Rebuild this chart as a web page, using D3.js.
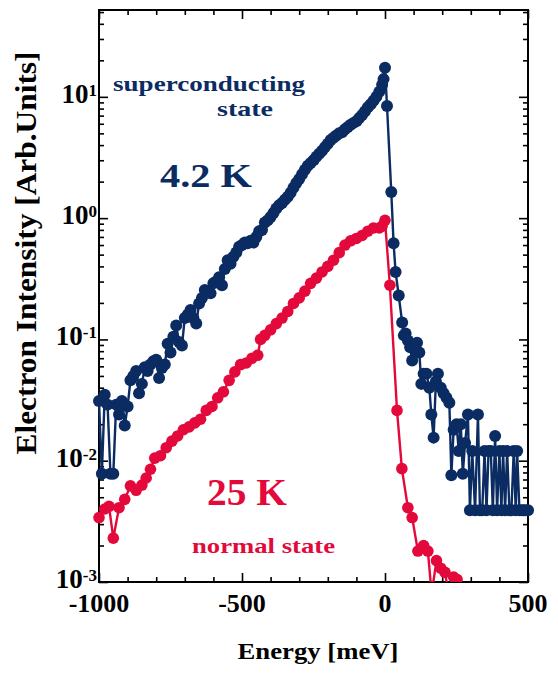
<html>
<head>
<script src="https://cdnjs.cloudflare.com/ajax/libs/d3/7.8.5/d3.min.js"></script>
<style>
  body{margin:0;background:#fff;}
</style>
</head>
<body>
<div id="chart"></div>
<script>
// 4.2 K, superconducting state
let blueE=[-1000,-990,-980,-970,-960,-950,-940,-930,-920,-910,-900,-890,-880,-870,-860,-850,-840,-830,-820,-810,
  -800,-790,-780,-770,-760,-750,-740,-730,-720,-710,-700,-690,-680,-670,-660,-650,-640,-630,-620,-610,
  -600,-590,-580,-570,-560,-550,-540,-530,-520,-510,-500,-490,-480,-470,-460,-450,-440,-430,-420,-410,
  -400,-390,-380,-370,-360,-350,-340,-330,-320,-310,-300,-290,-280,-270,-260,-250,-240,-230,-220,-210,
  -200,-190,-180,-170,-160,-150,-140,-130,-120,-110,-100,-90,-80,-70,-60,-50,-40,-30,-20,-10,-5,0,
  7,22,30,37,48,60,66,72,80,88,95,103,112,120,127,135,145,155,162,170,178,185,195,205,215,225,232,240,
  250,258,265,272,280,290,297,305,315,325,332,340,348,355,362,370,377,385,392,400,407,413,420,427,435,
  442,450,457,462,470,478,485,492,500];
let blueI=[0.031,0.0078,0.035,0.029,0.0078,0.0078,0.029,0.024,0.031,0.0195,0.028,0.046,0.050,0.055,0.036,0.043,0.059,0.055,0.062,0.066,
  0.068,0.048,0.058,0.062,0.092,0.078,0.105,0.13,0.095,0.089,0.15,0.16,0.175,0.15,0.135,0.198,0.22,0.255,0.25,0.24,
  0.29,0.30,0.325,0.28,0.38,0.45,0.42,0.48,0.52,0.58,0.60,0.63,0.62,0.65,0.63,0.70,0.78,0.80,0.92,0.96,
  1.02,1.1,1.2,1.28,1.33,1.42,1.5,1.62,1.78,1.95,2.1,2.3,2.5,2.7,2.85,3.0,3.2,3.4,3.6,3.85,
  4.1,4.4,4.6,4.8,5.0,5.1,5.4,5.65,5.9,6.1,6.3,6.7,7.1,7.6,8.2,8.7,9.3,10,11,12.6,14,17.4,
  8.4,1.64,0.62,0.36,0.23,0.138,0.108,0.112,0.098,0.086,0.067,0.085,0.094,0.078,0.043,0.052,0.052,0.04,0.024,0.0155,0.045,0.052,0.04,0.036,0.033,0.030,0.0076,0.018,
  0.020,0.012,0.020,0.0078,0.014,0.024,0.0039,0.012,0.0039,0.024,0.0039,0.0039,0.012,0.0039,0.012,0.012,0.0039,0.016,0.0039,0.012,0.0039,0.012,0.0039,0.012,0.0039,
  0.0039,0.012,0.0039,0.012,0.0039,0.0039,0.0039,0.0039,0.0039];

// 25 K, normal state
let redE=[-1000,-980,-965,-950,-930,-910,-890,-870,-850,-835,-820,-805,-785,-765,-745,-725,-705,-685,-665,-645,
  -625,-605,-585,-565,-545,-525,-505,-485,-465,-445,-435,-420,-400,-380,-360,-340,-320,-300,-280,-260,
  -240,-220,-200,-180,-160,-140,-120,-100,-80,-60,-40,-20,-10,0,
  17,42,59,80,95,115,135,150,163,180,195,210,222,240,252];
let redI=[0.0034,0.0040,0.0042,0.0023,0.0041,0.0048,0.0062,0.0057,0.0063,0.0072,0.0085,0.0105,0.011,0.0128,0.0145,0.016,0.018,0.019,0.0205,0.022,
  0.026,0.028,0.033,0.037,0.046,0.054,0.062,0.064,0.070,0.074,0.100,0.108,0.12,0.135,0.15,0.17,0.198,0.22,0.25,0.29,
  0.32,0.36,0.40,0.45,0.52,0.60,0.65,0.68,0.72,0.78,0.83,0.83,0.86,0.96,
  0.28,0.026,0.0086,0.0041,0.0034,0.0018,0.0020,0.0018,0.0008,0.0015,0.0013,0.0012,0.0008,0.0011,0.00105];

let xMajor=[-1000,-500,0,500];
let xMinor=[-900,-800,-700,-600,-400,-300,-200,-100,100,200,300,400];
let yExp=[1,0,-1,-2,-3];

let W=558,H=673;
let navy='#0b2c62', red='#e3093b';
let serif="'Liberation Serif','Times New Roman',Tinos,Times,'Nimbus Roman',serif";

let svg=d3.select('#chart').append('svg').attr('width',W).attr('height',H)
  .attr('font-family',serif).attr('font-weight','bold');

let x=d3.scaleLinear().domain([-1000,500]).range([99,528]);
let y=d3.scaleLog().domain([1e-3,52]).range([582,10]);

let yMajor=yExp.map(e=>Math.pow(10,e));
let yMinor=[];
yExp.forEach(e=>{
  for(let k=2;k<=9;k++){
    let v=k*Math.pow(10,e);
    if(v<=52) yMinor.push(v);
  }
});

// ticks, all pointing inward
function tickGroup(axis,tr){
  let g=svg.append('g').attr('transform',tr).call(axis);
  g.select('.domain').remove();
  g.selectAll('line').attr('stroke','#000').attr('stroke-width',1.6);
  g.selectAll('text').remove();
}
tickGroup(d3.axisTop(x).tickValues(xMajor).tickSize(9),'translate(0,582)');
tickGroup(d3.axisTop(x).tickValues(xMinor).tickSize(5),'translate(0,582)');
tickGroup(d3.axisBottom(x).tickValues(xMajor).tickSize(9),'translate(0,10)');
tickGroup(d3.axisBottom(x).tickValues(xMinor).tickSize(5),'translate(0,10)');
tickGroup(d3.axisRight(y).tickValues(yMajor).tickSize(9),'translate(99,0)');
tickGroup(d3.axisRight(y).tickValues(yMinor).tickSize(5),'translate(99,0)');
tickGroup(d3.axisLeft(y).tickValues(yMajor).tickSize(9),'translate(528,0)');
tickGroup(d3.axisLeft(y).tickValues(yMinor).tickSize(5),'translate(528,0)');

svg.append('rect')
  .attr('x',99).attr('y',10).attr('width',429).attr('height',572)
  .attr('fill','none').attr('stroke','#000').attr('stroke-width',2);

// tick labels
svg.selectAll('.xlab').data(xMajor).enter().append('text')
  .attr('class','xlab')
  .attr('x',d=>x(d)).attr('y',612)
  .attr('text-anchor','middle')
  .attr('font-size',26)
  .text(d=>d);

let ylab=svg.selectAll('.ylab').data(yExp).enter().append('text')
  .attr('class','ylab')
  .attr('x',97).attr('y',d=>y(Math.pow(10,d))+6)
  .attr('text-anchor','end')
  .attr('font-size',27);
ylab.append('tspan').text('10');
ylab.append('tspan').attr('font-size',17).attr('dy',-7).text(d=>d);

// axis titles
svg.append('text')
  .attr('x',318).attr('y',659)
  .attr('text-anchor','middle')
  .attr('font-size',23)
  .attr('textLength',161).attr('lengthAdjust','spacingAndGlyphs')
  .text('Energy [meV]');

svg.append('text')
  .attr('transform','translate(36,253) rotate(-90)')
  .attr('text-anchor','middle')
  .attr('font-size',30)
  .attr('textLength',403).attr('lengthAdjust','spacingAndGlyphs')
  .text('Electron Intensity [Arb.Units]');

// data
svg.append('clipPath').attr('id','clip')
  .append('rect').attr('x',0).attr('y',10).attr('width',W).attr('height',572);

let plot=svg.append('g').attr('clip-path','url(#clip)');

let line=d3.line().x(d=>x(d[0])).y(d=>y(d[1]));

function series(E,I,col,r){
  let pts=E.map((e,i)=>[e,I[i]]);
  plot.append('path').datum(pts)
    .attr('d',line).attr('fill','none')
    .attr('stroke',col).attr('stroke-width',2.4);
  plot.selectAll(null).data(pts).enter().append('circle')
    .attr('cx',d=>x(d[0])).attr('cy',d=>y(d[1]))
    .attr('r',r).attr('fill',col);
}
series(blueE,blueI,navy,6);
series(redE,redI,red,5.8);

// annotations
function label(t,x0,y0,size,len,col){
  svg.append('text').attr('x',x0).attr('y',y0)
    .attr('font-size',size).attr('fill',col)
    .attr('textLength',len).attr('lengthAdjust','spacingAndGlyphs')
    .text(t);
}
label('superconducting',113,91,21,192,navy);
label('state',217,116,21,56,navy);
label('4.2 K',160,187,33,92,navy);
label('25 K',207,505,37,80,red);
label('normal state',192,553,21,143,red);
</script>
</body>
</html>
